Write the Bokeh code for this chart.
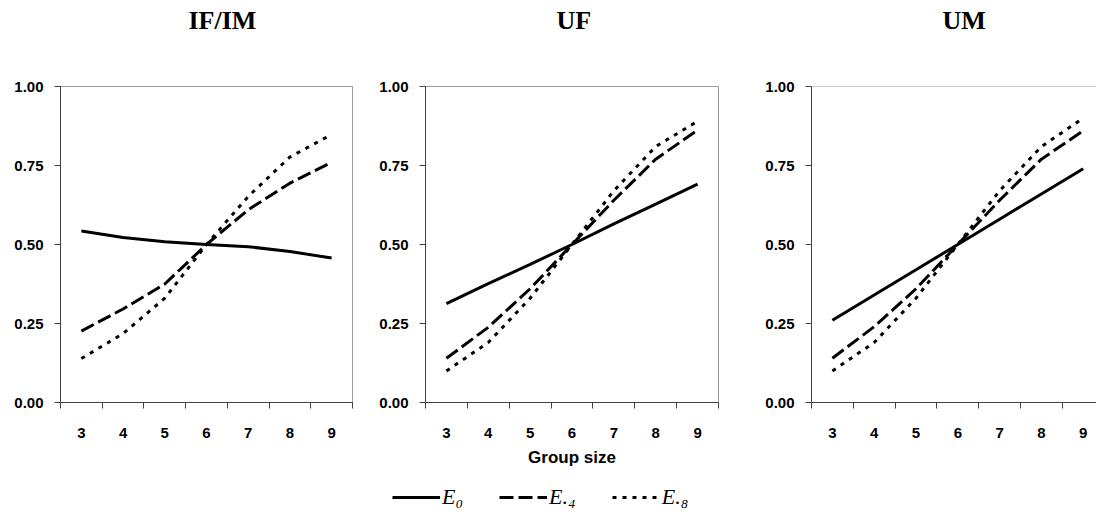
from bokeh.plotting import figure
from bokeh.layouts import row, column
from bokeh.models import FixedTicker, NumeralTickFormatter, Span, Legend, LegendItem, Title
from bokeh.embed import file_html
from bokeh.resources import INLINE

# ---- data ----
group_sizes = [3, 4, 5, 6, 7, 8, 9]
panels = ["IF/IM", "UF", "UM"]

e0_ifim = [0.543, 0.522, 0.509, 0.500, 0.493, 0.478, 0.457]
e4_ifim = [0.226, 0.296, 0.375, 0.500, 0.610, 0.694, 0.760]
e8_ifim = [0.139, 0.218, 0.330, 0.500, 0.652, 0.777, 0.848]

e0_uf = [0.313, 0.376, 0.437, 0.500, 0.565, 0.628, 0.691]
e4_uf = [0.140, 0.238, 0.360, 0.500, 0.640, 0.770, 0.862]
e8_uf = [0.100, 0.190, 0.330, 0.500, 0.670, 0.810, 0.890]

e0_um = [0.260, 0.340, 0.420, 0.500, 0.580, 0.660, 0.740]
e4_um = [0.140, 0.240, 0.360, 0.500, 0.640, 0.770, 0.860]
e8_um = [0.100, 0.190, 0.330, 0.500, 0.670, 0.810, 0.900]

y_ticks = [0.0, 0.25, 0.5, 0.75, 1.0]
series_labels = ["E\u2080", "E.\u2084", "E.\u2088"]

SOLID = "solid"
DASH = "14 5"
DOT = "4 6"
LW = 3

AX_COL = "#404040"
OUT_COL = "#9a9a9a"
TICK_FONT = "Liberation Sans"
FIG_H = 472


def make_panel(title, e0, e4, e8, width, bl, br, bb, x_end, title_offset, outline=True, xlabel=None):
    p = figure(width=width, height=FIG_H, output_backend="svg", toolbar_location=None,
               x_range=(2.5, x_end), y_range=(0, 1),
               min_border_left=bl, min_border_right=br, min_border_top=0, min_border_bottom=bb)
    p.grid.grid_line_color = None
    p.background_fill_color = "white"
    p.border_fill_color = "white"
    if outline:
        p.outline_line_color = OUT_COL
        p.outline_line_width = 1
    else:
        p.outline_line_color = None
        p.add_layout(Span(location=1.0, dimension="width", line_color=OUT_COL, line_width=1))

    # spacer between frame and title
    p.add_layout(Title(text=" ", text_font_size="10px", standoff=36), "above")

    p.title.text = title
    p.title.text_font = "Liberation Serif"
    p.title.text_font_size = "26px"
    p.title.text_font_style = "bold"
    p.title.text_color = "black"
    p.title.align = "left"
    p.title.offset = title_offset
    p.title.standoff = 6

    p.line(group_sizes, e0, line_color="black", line_width=LW, line_dash=SOLID)
    p.line(group_sizes, e4, line_color="black", line_width=LW, line_dash=DASH)
    p.line(group_sizes, e8, line_color="black", line_width=LW, line_dash=DOT)

    bounds = [g - 0.5 for g in group_sizes] + [group_sizes[-1] + 0.5]
    xa = p.xaxis[0]
    xa.ticker = FixedTicker(ticks=group_sizes, minor_ticks=bounds)
    xa.major_tick_out = 0
    xa.major_tick_in = 0
    xa.minor_tick_out = 6
    xa.minor_tick_in = 0
    xa.minor_tick_line_color = AX_COL
    xa.axis_line_color = AX_COL
    xa.major_label_text_font = TICK_FONT
    xa.major_label_text_font_style = "bold"
    xa.major_label_text_font_size = "15px"
    xa.major_label_text_color = "black"
    xa.major_label_standoff = 19
    if xlabel:
        xa.axis_label = xlabel
        xa.axis_label_text_font = TICK_FONT
        xa.axis_label_text_font_style = "bold"
        xa.axis_label_text_font_size = "17px"
        xa.axis_label_text_color = "black"
        xa.axis_label_standoff = 7

    ya = p.yaxis[0]
    ya.ticker = FixedTicker(ticks=y_ticks)
    ya.formatter = NumeralTickFormatter(format="0.00")
    ya.major_tick_out = 6
    ya.major_tick_in = 0
    ya.minor_tick_line_color = None
    ya.major_tick_line_color = AX_COL
    ya.axis_line_color = AX_COL
    ya.major_label_text_font = TICK_FONT
    ya.major_label_text_font_style = "bold"
    ya.major_label_text_font_size = "15px"
    ya.major_label_text_color = "black"
    ya.major_label_standoff = 11
    return p


p1 = make_panel(panels[0], e0_ifim, e4_ifim, e8_ifim, width=366, bl=60, br=14, bb=66,
                x_end=9.5, title_offset=128)
p2 = make_panel(panels[1], e0_uf, e4_uf, e8_uf, width=384, bl=59, br=32, bb=70,
                x_end=9.5, title_offset=131, xlabel="Group size")
p3 = make_panel(panels[2], e0_um, e4_um, e8_um, width=346, bl=61, br=0, bb=69,
                x_end=2.5 + 285 / 41.8, title_offset=131, outline=False)

# ---- legend strip (lines lie outside its visible range; only the legend shows) ----
pl = figure(width=1096, height=40, output_backend="svg", toolbar_location=None,
            x_range=(0, 1), y_range=(0, 1), min_border=0)
pl.axis.visible = False
pl.grid.grid_line_color = None
pl.outline_line_color = None
r0 = pl.line(group_sizes, e0_uf, line_color="black", line_width=LW, line_dash=SOLID)
r4 = pl.line(group_sizes, e4_uf, line_color="black", line_width=LW, line_dash=DASH)
r8 = pl.line(group_sizes, e8_uf, line_color="black", line_width=LW, line_dash=DOT)
leg = Legend(items=[LegendItem(label=series_labels[0], renderers=[r0]),
                    LegendItem(label=series_labels[1], renderers=[r4]),
                    LegendItem(label=series_labels[2], renderers=[r8])],
             orientation="horizontal", location=(392, 2),
             glyph_width=48, glyph_height=20, label_standoff=2, spacing=36,
             padding=0, margin=0, border_line_color=None, background_fill_alpha=0,
             label_text_font="Liberation Serif", label_text_font_style="italic",
             label_text_font_size="22px", label_text_color="black")
pl.add_layout(leg, "center")

layout = column(row(p1, p2, p3), pl)

open("out.html", "w").write(file_html(layout, INLINE))
